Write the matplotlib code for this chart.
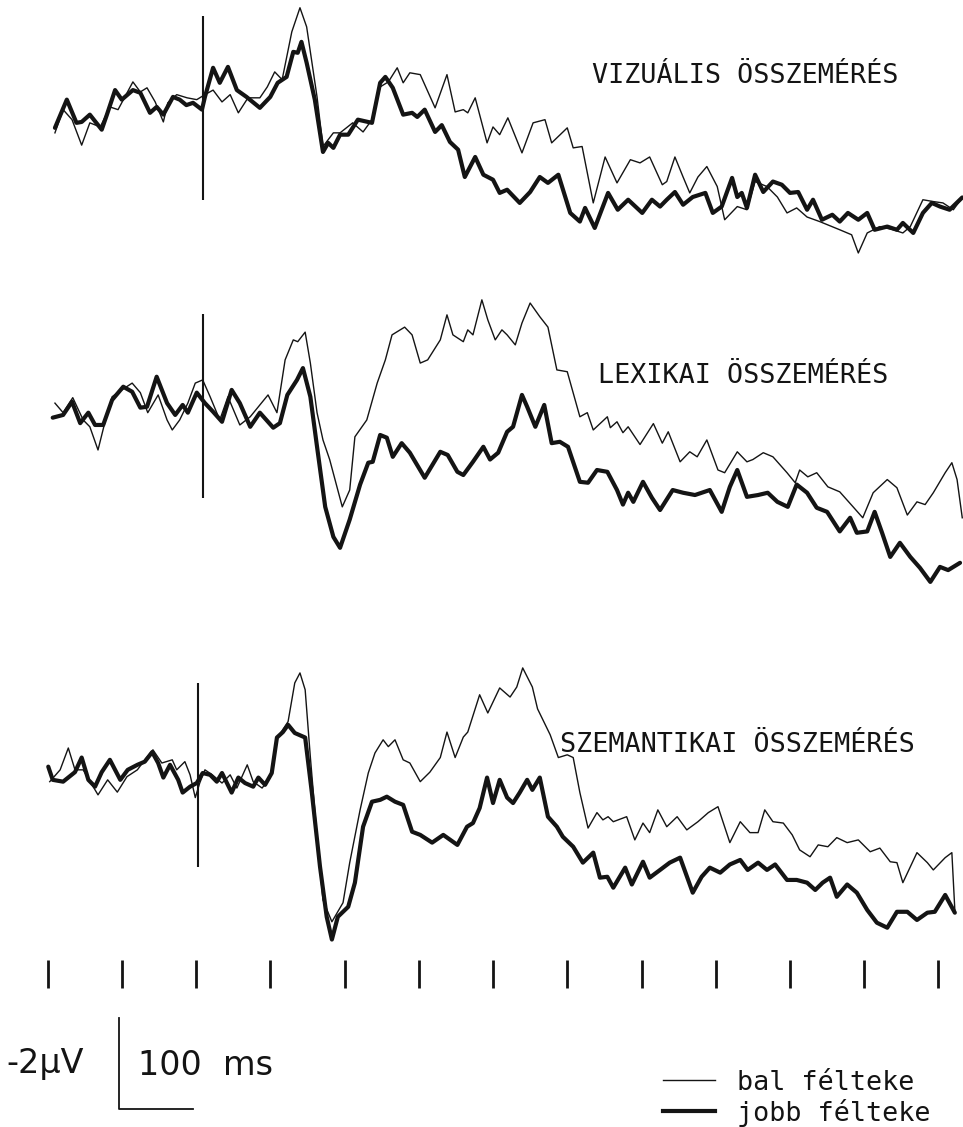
import numpy as np
import matplotlib
matplotlib.use("Agg")
import matplotlib.pyplot as plt

# ERP curves: (time in ms, amplitude in uV), negative is up
vis_bal = [(-190, 0.55), (-179, 0.04), (-167, 0.26), (-154, 0.82), (-143, 0.33), (-129, 0.42),
           (-116, -0.02), (-105, 0.04), (-85, -0.57), (-75, -0.35), (-66, -0.44), (-55, -0.13),
           (-44, 0.31), (-38, -0.11), (-26, -0.29), (-12, -0.22), (1, -0.18), (12, -0.29),
           (23, -0.39), (35, -0.13), (46, -0.29), (57, 0.11), (70, -0.22), (86, -0.22),
           (96, -0.46), (106, -0.79), (116, -0.62), (129, -1.67), (140, -2.20), (149, -1.78),
           (163, -0.24), (171, 0.85), (185, 0.55), (194, 0.55), (211, 0.33), (225, 0.53),
           (237, 0.26), (248, -0.46), (259, -0.57), (271, -0.88), (279, -0.55), (288, -0.77),
           (302, -0.73), (322, 0.0), (338, -0.73), (349, 0.09), (360, 0.04), (366, 0.11),
           (376, -0.22), (392, 0.77), (400, 0.42), (409, 0.59), (420, 0.22), (439, 0.99),
           (454, 0.33), (470, 0.26), (479, 0.77), (500, 0.44), (508, 0.88), (520, 0.85),
           (535, 2.09), (551, 1.08), (567, 1.65), (585, 1.14), (598, 1.21), (611, 1.08),
           (628, 1.69), (634, 1.62), (645, 1.08), (656, 1.52), (665, 1.87), (676, 1.52),
           (688, 1.29), (702, 1.73), (712, 2.46), (729, 2.17), (742, 2.24), (753, 1.62),
           (769, 1.73), (783, 1.96), (796, 2.31), (809, 2.20), (823, 2.40), (840, 2.50),
           (867, 2.68), (883, 2.79), (892, 3.19), (904, 2.75), (921, 2.61), (939, 2.68),
           (952, 2.75), (962, 2.61), (979, 2.02), (993, 2.06), (1006, 2.09), (1020, 2.24),
           (1032, 1.97)]

vis_jobb = [(-190, 0.44), (-174, -0.18), (-161, 0.33), (-154, 0.31), (-143, 0.15), (-127, 0.48),
            (-120, 0.15), (-109, -0.39), (-100, -0.18), (-85, -0.39), (-75, -0.33), (-62, 0.11),
            (-53, -0.02), (-44, 0.15), (-31, -0.24), (-22, -0.18), (-13, -0.06), (-4, -0.11),
            (8, 0.04), (12, -0.24), (23, -0.88), (32, -0.55), (43, -0.90), (55, -0.39),
            (68, -0.24), (86, 0.0), (100, -0.24), (110, -0.55), (122, -0.68), (131, -1.23),
            (137, -1.21), (142, -1.45), (149, -0.99), (160, -0.18), (171, 0.97), (178, 0.77),
            (185, 0.88), (194, 0.59), (205, 0.59), (218, 0.26), (237, 0.33), (248, -0.55),
            (255, -0.68), (265, -0.44), (279, 0.15), (291, 0.11), (298, 0.20), (308, 0.04),
            (322, 0.53), (331, 0.38), (342, 0.75), (353, 0.92), (362, 1.52), (376, 1.08),
            (387, 1.47), (400, 1.58), (409, 1.87), (419, 1.80), (436, 2.09), (450, 1.85),
            (463, 1.52), (474, 1.65), (488, 1.47), (504, 2.31), (517, 2.50), (524, 2.20),
            (537, 2.64), (555, 1.87), (568, 2.24), (582, 2.02), (601, 2.31), (614, 2.02),
            (625, 2.17), (634, 2.02), (645, 1.85), (656, 2.13), (669, 1.96), (686, 1.87),
            (696, 2.31), (708, 2.17), (722, 1.54), (729, 1.96), (735, 1.87), (742, 2.20),
            (753, 1.47), (764, 1.85), (777, 1.62), (789, 1.69), (800, 1.87), (811, 1.85),
            (823, 2.24), (831, 2.02), (843, 2.46), (857, 2.35), (867, 2.50), (878, 2.31),
            (892, 2.46), (904, 2.31), (914, 2.68), (931, 2.61), (944, 2.68), (952, 2.53),
            (966, 2.75), (979, 2.31), (991, 2.09), (1002, 2.17), (1015, 2.24), (1032, 1.97)]

lex_bal = [(-190, -0.06), (-179, 0.15), (-166, -0.18), (-152, 0.31), (-143, 0.46), (-132, 0.97),
           (-123, 0.38), (-113, -0.20), (-100, -0.35), (-86, -0.50), (-75, -0.29), (-65, 0.15),
           (-51, -0.24), (-39, 0.31), (-32, 0.53), (-22, 0.31), (-11, -0.06), (-1, -0.50),
           (9, -0.57), (19, -0.20), (32, 0.31), (43, -0.20), (59, 0.42), (73, 0.24),
           (84, 0.02), (97, -0.24), (109, 0.15), (120, -1.01), (131, -1.45), (137, -1.41),
           (147, -1.62), (154, -0.94), (163, 0.15), (171, 0.75), (180, 1.18), (197, 2.22),
           (207, 1.85), (214, 0.68), (230, 0.31), (244, -0.50), (255, -1.01), (264, -1.56),
           (281, -1.73), (291, -1.56), (302, -0.94), (312, -1.01), (329, -1.45), (338, -2.00),
           (346, -1.56), (360, -1.41), (366, -1.67), (373, -1.56), (385, -2.33), (393, -1.89),
           (403, -1.45), (412, -1.67), (419, -1.56), (430, -1.34), (439, -1.82), (450, -2.26),
           (463, -1.96), (474, -1.73), (486, -0.79), (500, -0.75), (517, 0.24), (527, 0.15),
           (535, 0.53), (554, 0.24), (558, 0.48), (567, 0.35), (575, 0.59), (582, 0.46),
           (598, 0.85), (616, 0.39), (628, 0.82), (636, 0.57), (652, 1.23), (665, 1.01),
           (675, 1.12), (688, 0.75), (703, 1.41), (712, 1.47), (729, 1.01), (742, 1.23),
           (750, 1.18), (764, 1.03), (777, 1.12), (796, 1.47), (807, 1.69), (813, 1.41),
           (824, 1.56), (836, 1.47), (851, 1.78), (867, 1.89), (885, 2.22), (898, 2.46),
           (912, 1.91), (931, 1.62), (944, 1.80), (958, 2.40), (971, 2.11), (982, 2.17),
           (993, 1.91), (1009, 1.47), (1018, 1.25), (1025, 1.62), (1032, 2.46)]

lex_jobb = [(-193, 0.26), (-179, 0.20), (-167, -0.09), (-156, 0.38), (-145, 0.15), (-136, 0.42),
            (-125, 0.42), (-113, -0.13), (-98, -0.42), (-86, -0.31), (-75, 0.04), (-66, 0.02),
            (-53, -0.64), (-39, -0.06), (-28, 0.20), (-18, -0.02), (-11, 0.15), (1, -0.29),
            (12, -0.06), (23, 0.13), (35, 0.35), (48, -0.35), (59, -0.06), (73, 0.46),
            (86, 0.15), (104, 0.48), (113, 0.38), (123, -0.24), (136, -0.57), (144, -0.83),
            (154, -0.20), (163, 0.90), (174, 2.22), (185, 2.88), (194, 3.12), (207, 2.50),
            (221, 1.73), (232, 1.25), (238, 1.23), (248, 0.64), (257, 0.70), (265, 1.12),
            (277, 0.82), (288, 1.03), (308, 1.58), (329, 1.01), (339, 1.08), (352, 1.45),
            (360, 1.52), (373, 1.23), (387, 0.90), (396, 1.18), (407, 1.03), (419, 0.57),
            (427, 0.46), (439, -0.24), (446, 0.02), (457, 0.46), (469, -0.02), (479, 0.82),
            (490, 0.79), (501, 0.90), (517, 1.67), (528, 1.69), (540, 1.41), (554, 1.45),
            (567, 1.85), (575, 2.17), (582, 1.91), (589, 2.11), (602, 1.67), (614, 2.02),
            (625, 2.29), (642, 1.85), (656, 1.91), (672, 1.96), (692, 1.85), (708, 2.33),
            (719, 1.78), (729, 1.41), (742, 2.00), (757, 1.96), (770, 1.91), (783, 2.11),
            (797, 2.22), (809, 1.73), (823, 1.91), (836, 2.24), (850, 2.33), (867, 2.76),
            (881, 2.46), (890, 2.79), (904, 2.76), (914, 2.33), (924, 2.79), (935, 3.32),
            (948, 3.01), (962, 3.32), (975, 3.56), (989, 3.87), (1002, 3.54), (1013, 3.61),
            (1029, 3.45)]

sem_bal = [(-197, 0.15), (-183, -0.11), (-172, -0.59), (-163, -0.11), (-152, -0.11), (-132, 0.44),
           (-119, 0.11), (-106, 0.38), (-93, 0.04), (-79, -0.11), (-69, -0.33), (-58, -0.55),
           (-46, -0.26), (-32, -0.33), (-26, -0.11), (-15, -0.29), (-8, 0.0), (-1, 0.50),
           (5, 0.18), (12, -0.11), (22, 0.0), (35, 0.18), (46, 0.0), (55, 0.29),
           (69, -0.22), (77, 0.15), (89, 0.29), (100, 0.06), (110, -0.82), (124, -1.17),
           (133, -2.02), (140, -2.24), (147, -1.87), (154, -0.39), (163, 1.36), (171, 2.75),
           (183, 3.23), (198, 2.81), (207, 1.93), (221, 0.77), (232, -0.04), (241, -0.48),
           (252, -0.77), (259, -0.62), (268, -0.77), (279, -0.33), (288, -0.26), (302, 0.15),
           (315, -0.06), (329, -0.38), (338, -0.94), (349, -0.38), (360, -0.83), (366, -0.94),
           (382, -1.76), (393, -1.36), (409, -1.91), (423, -1.71), (432, -1.93), (440, -2.35),
           (453, -1.93), (460, -1.45), (477, -0.88), (488, -0.38), (500, -0.44), (508, -0.38),
           (517, 0.39), (528, 1.17), (540, 0.83), (548, 0.99), (555, 0.92), (562, 1.03),
           (580, 0.92), (591, 1.43), (602, 1.06), (611, 1.27), (622, 0.77), (634, 1.14),
           (648, 0.92), (661, 1.21), (676, 1.03), (690, 0.83), (703, 0.70), (719, 1.49),
           (733, 1.03), (746, 1.27), (757, 1.27), (766, 0.77), (777, 1.03), (791, 1.06),
           (803, 1.32), (813, 1.65), (827, 1.80), (838, 1.54), (851, 1.58), (863, 1.38),
           (877, 1.49), (892, 1.43), (908, 1.69), (921, 1.61), (935, 1.91), (944, 1.93),
           (952, 2.37), (971, 1.71), (985, 1.93), (993, 2.09), (1009, 1.82), (1018, 1.71),
           (1022, 2.97)]

sem_jobb = [(-199, -0.18), (-193, 0.11), (-179, 0.15), (-163, -0.06), (-154, -0.38), (-145, 0.11),
            (-136, 0.26), (-127, -0.06), (-116, -0.33), (-102, 0.11), (-92, -0.11), (-79, -0.22),
            (-69, -0.29), (-59, -0.50), (-51, -0.26), (-44, 0.06), (-35, -0.22), (-24, 0.11),
            (-18, 0.39), (-8, 0.26), (1, 0.18), (9, -0.04), (19, 0.0), (28, 0.15),
            (35, -0.04), (48, 0.39), (57, 0.06), (66, 0.18), (77, 0.26), (84, 0.06),
            (93, 0.22), (102, -0.04), (109, -0.82), (117, -0.94), (124, -1.10), (133, -0.92),
            (147, -0.82), (156, 0.39), (167, 2.02), (176, 3.12), (183, 3.62), (191, 3.12),
            (205, 2.90), (214, 2.37), (225, 1.14), (237, 0.59), (248, 0.55), (257, 0.48),
            (268, 0.59), (279, 0.66), (291, 1.25), (302, 1.32), (318, 1.49), (333, 1.32),
            (352, 1.54), (365, 1.14), (373, 1.06), (382, 0.73), (392, 0.06), (400, 0.62),
            (409, 0.11), (419, 0.50), (427, 0.62), (436, 0.39), (446, 0.11), (453, 0.33),
            (463, 0.06), (474, 0.92), (486, 1.14), (494, 1.36), (508, 1.58), (521, 1.93),
            (535, 1.71), (544, 2.26), (554, 2.24), (562, 2.48), (578, 2.04), (587, 2.41),
            (602, 1.91), (611, 2.26), (625, 2.09), (638, 1.93), (652, 1.82), (669, 2.59),
            (681, 2.24), (692, 2.04), (706, 2.15), (719, 1.97), (733, 1.87), (743, 2.09),
            (757, 1.93), (769, 2.09), (780, 1.97), (796, 2.31), (809, 2.31), (823, 2.37),
            (834, 2.53), (844, 2.37), (854, 2.26), (863, 2.68), (877, 2.41), (890, 2.59),
            (904, 2.97), (917, 3.25), (931, 3.36), (944, 3.01), (958, 3.01), (971, 3.19),
            (985, 3.03), (995, 3.01), (1009, 2.64), (1022, 3.03)]

panel_names = ["VIZUÁLIS ÖSSZEMÉRÉS", "LEXIKAI ÖSSZEMÉRÉS", "SZEMANTIKAI ÖSSZEMÉRÉS"]
stim_ms = [9, 9, 2]
tick_ms = list(range(-200, 1001, 100))
legend_labels = ["bal félteke", "jobb félteke"]

ink = "#141414"
mono = "DejaVu Sans Mono"

# page layout in data units (ms across, uV down)
panel_base = [2.37, 8.92, 17.03]
label_pos = [(533, 1.82), (541, 8.42), (490, 16.53)]

fig = plt.figure(figsize=(9.63, 11.27), dpi=100)
ax = fig.add_axes([0, 0, 1, 1])
ax.set_xlim(-264, 1033)
ax.set_ylim(24.77, 0)
ax.axis("off")

traces = [(vis_bal, vis_jobb), (lex_bal, lex_jobb), (sem_bal, sem_jobb)]
for (bal, jobb), base, stim, name, (lx, ly) in zip(traces, panel_base, stim_ms,
                                                    panel_names, label_pos):
    t, v = np.array(jobb).T
    ax.plot(t, v + base, color=ink, lw=3.0, solid_joinstyle="round", solid_capstyle="round")
    t, v = np.array(bal).T
    ax.plot(t, v + base, color=ink, lw=1.0, solid_joinstyle="round")
    ax.vlines(stim, base - 2.02, base + 2.02, color=ink, lw=1.5)
    ax.text(lx, ly, name, family=mono, fontsize=19.3, va="baseline", color=ink)

# time ticks every 100 ms
ax.vlines(tick_ms, 21.10, 21.71, color=ink, lw=2.0)

# calibration: -2 uV / 100 ms
ax.plot([-104, -104, -4], [22.37, 24.37, 24.37], color=ink, lw=1.3)
ax.text(-255, 23.58, "-2µV", fontsize=24, va="baseline", color=ink)
ax.text(-78, 23.63, "100  ms", fontsize=24, va="baseline", color=ink)

# legend
ax.plot([629, 699], [23.74, 23.74], color=ink, lw=1.0)
ax.plot([629, 699], [24.42, 24.42], color=ink, lw=3.0)
ax.text(729, 23.96, legend_labels[0], family=mono, fontsize=19.3, va="baseline", color=ink)
ax.text(729, 24.64, legend_labels[1], family=mono, fontsize=19.3, va="baseline", color=ink)

fig.savefig("out.png", dpi=100, facecolor="white")
